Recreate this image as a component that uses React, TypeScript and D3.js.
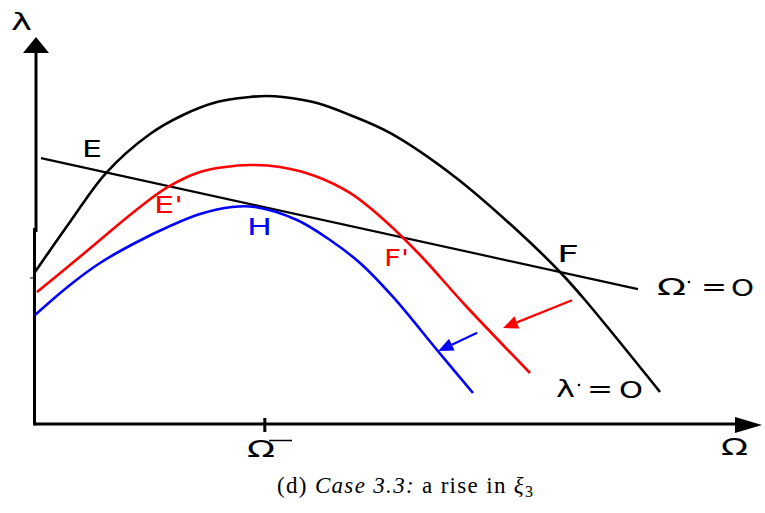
import React from "react";
import * as d3 from "d3";

// Phase diagram in the (Ω, λ) plane: the λ̇ = 0 locus shifts down after a rise in ξ3.
const OMEGA_MAX = 12;
const LAMBDA_MAX = 8;
const OMEGA_BAR = 3.83;

// λ̇ = 0 locus, initial position (black)
const lambdaDotInitial: [number, number][] = [
  [0, 3.167], [0.583, 4.208], [1.183, 5.229], [1.917, 6.042], [2.467, 6.438],
  [3.033, 6.708], [3.583, 6.813], [3.85, 6.833], [4.133, 6.813], [4.7, 6.688],
  [5.25, 6.438], [5.917, 6.063], [7.0, 5.146], [8.083, 3.979], [8.75, 3.167],
  [9.167, 2.583], [10.417, 0.667],
];
// λ̇ = 0 locus after the first shift (red)
const lambdaDotShifted: [number, number][] = [
  [0.033, 2.75], [0.583, 3.313], [1.083, 3.833], [1.667, 4.438], [2.217, 4.938],
  [2.75, 5.25], [3.167, 5.354], [3.567, 5.396], [4.083, 5.354], [4.667, 5.167],
  [5.25, 4.813], [5.8, 4.271], [6.417, 3.521], [7.167, 2.479], [8.25, 1.063],
];
// λ̇ = 0 locus tangent to Ω̇ = 0 at H (blue)
const lambdaDotTangent: [number, number][] = [
  [0, 2.271], [0.583, 2.896], [1.083, 3.354], [1.667, 3.771], [2.25, 4.125],
  [2.75, 4.375], [3.283, 4.521], [3.667, 4.521], [4.367, 4.25], [4.917, 3.833],
  [5.417, 3.354], [5.967, 2.646], [6.7, 1.542], [7.3, 0.646],
];
// Ω̇ = 0 locus
const omegaDotLine: [number, number][] = [[0.1, 5.54], [10.05, 2.81]];
// shift arrows
const redShift: [number, number][] = [[8.95, 2.58], [7.8, 2.0]];
const blueShift: [number, number][] = [[7.37, 1.9], [6.72, 1.52]];

const W = 765;
const H = 513;

export default function App() {
  const x = d3.scaleLinear().domain([0, OMEGA_MAX]).range([35, 755]);
  const y = d3.scaleLinear().domain([0, LAMBDA_MAX]).range([424, 40]);
  const curve = d3
    .line<[number, number]>()
    .x((d) => x(d[0]))
    .y((d) => y(d[1]))
    .curve(d3.curveCatmullRom.alpha(0.5));
  const straight = d3
    .line<[number, number]>()
    .x((d) => x(d[0]))
    .y((d) => y(d[1]));

  const arrow = (seg: [number, number][], color: string) => {
    const [a, b] = seg;
    const x0 = x(a[0]), y0 = y(a[1]), x1 = x(b[0]), y1 = y(b[1]);
    const ang = Math.atan2(y1 - y0, x1 - x0);
    const len = 15, hw = 6.5;
    const bx = x1 - len * Math.cos(ang), by = y1 - len * Math.sin(ang);
    const px = -Math.sin(ang) * hw, py = Math.cos(ang) * hw;
    return (
      <g>
        <line x1={x0} y1={y0} x2={bx} y2={by} stroke={color} strokeWidth={2.2} />
        <polygon points={`${x1},${y1} ${bx + px},${by + py} ${bx - px},${by - py}`} fill={color} />
      </g>
    );
  };

  const sans = "'DejaVu Sans', sans-serif";
  const x0 = x(0);
  const yBase = y(0);
  const tickX = x(OMEGA_BAR);
  const fit = { lengthAdjust: "spacingAndGlyphs" as const };

  return (
    <svg width={W} height={H} style={{ position: "absolute", left: 0, top: 0, background: "#fff" }}>
      {/* axes */}
      <line x1={x0 + 1} y1={50} x2={x0 + 1} y2={232} stroke="#000" strokeWidth={3} />
      <line x1={x0 - 0.5} y1={228} x2={x0 - 0.5} y2={yBase + 1.5} stroke="#000" strokeWidth={3} />
      <line x1={30} y1={278} x2={x0} y2={278} stroke="#000" strokeWidth={1} />
      <polygon points={`${x0 + 1},37 ${x0 - 12},53 ${x0 + 14},53`} fill="#000" />
      <line x1={x0 - 1} y1={yBase} x2={738} y2={yBase} stroke="#000" strokeWidth={3} />
      <polygon points={`762,${yBase + 1} 735,${yBase - 7} 735,${yBase + 9}`} fill="#000" />
      <line x1={tickX} y1={418} x2={tickX} y2={432} stroke="#000" strokeWidth={3} />

      {/* loci */}
      <path d={straight(omegaDotLine) ?? ""} fill="none" stroke="#000" strokeWidth={2.2} />
      <path d={curve(lambdaDotInitial) ?? ""} fill="none" stroke="#000" strokeWidth={2.6} />
      <path d={curve(lambdaDotShifted) ?? ""} fill="none" stroke="#ff0000" strokeWidth={2.6} />
      <path d={curve(lambdaDotTangent) ?? ""} fill="none" stroke="#0000ff" strokeWidth={2.6} />
      {arrow(redShift, "#ff0000")}
      {arrow(blueShift, "#0000ff")}

      {/* labels */}
      <g fontFamily={sans} fontSize={23}>
        <text x={11} y={30} fill="#000" textLength={21} {...fit}>λ</text>
        <text x={721} y={455} fill="#000" textLength={27} {...fit}>Ω</text>
        <text x={247} y={457} fill="#000" textLength={28} {...fit}>Ω</text>
        <line x1={269} y1={440.5} x2={292} y2={440.5} stroke="#000" strokeWidth={1.5} />
        <text x={82} y={157} fill="#000" textLength={20} {...fit}>E</text>
        <text x={557} y={262} fill="#000" textLength={22} {...fit}>F</text>
        <text x={154} y={213} fill="#ff0000" textLength={29} {...fit}>E'</text>
        <text x={384} y={266} fill="#ff0000" textLength={25} {...fit}>F'</text>
        <text x={247} y={235} fill="#0000ff" textLength={25} {...fit}>H</text>

        <text x={657} y={295} fill="#000" textLength={29} {...fit}>Ω</text>
        <circle cx={689} cy={282} r={1.3} fill="#000" />
        <text x={701} y={295} fill="#000" textLength={26} {...fit}>=</text>
        <text x={731} y={296} fill="#000" textLength={23} {...fit}>O</text>

        <text x={556} y={397} fill="#000" textLength={19} {...fit}>λ</text>
        <circle cx={579} cy={385} r={1.3} fill="#000" />
        <text x={587} y={397} fill="#000" textLength={26} {...fit}>=</text>
        <text x={619} y={398} fill="#000" textLength={24} {...fit}>O</text>
      </g>

      {/* caption */}
      <text x={277} y={493} fontFamily="'Liberation Serif', 'DejaVu Serif', serif" fontSize={23} fill="#000" textLength={256} lengthAdjust="spacing">
        (d) <tspan fontStyle="italic">Case 3.3:</tspan> a rise in <tspan fontStyle="italic">ξ</tspan>
        <tspan fontSize={16} dy={4}>3</tspan>
      </text>
    </svg>
  );
}
